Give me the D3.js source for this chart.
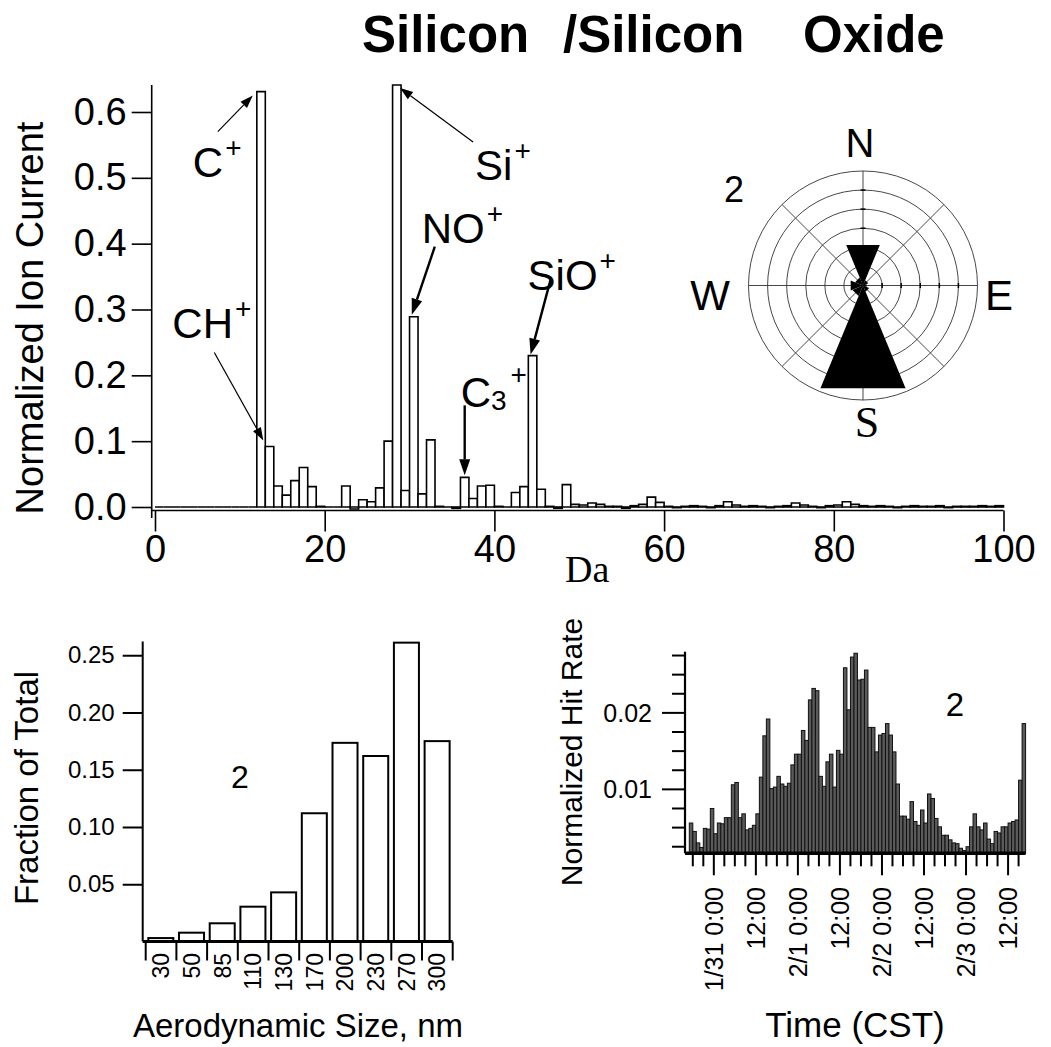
<!DOCTYPE html>
<html>
<head>
<meta charset="utf-8">
<script src="https://cdn.jsdelivr.net/npm/d3@7"></script>
<style>
  body { margin: 0; background: #fff; }
  svg { display: block; }
</style>
</head>
<body>
<div id="chart"></div>
<script>
// ---- mass spectrum: one bar per integer mass, 0..99 Da
const masses = d3.range(0, 100);
const ionCurrent = [
  0, 0, 0, 0, 0, 0, 0, 0, 0, 0,
  0, 0, 0.631, 0.092, 0.032, 0.018, 0.040, 0.060, 0.031, 0.001,
  0, 0, 0.032, -0.003, 0.011, 0.008, 0.029, 0.100, 0.641, 0.025,
  0.289, 0.020, 0.102, 0.001, 0, -0.002, 0.045, 0.013, 0.032, 0.033,
  0.001, 0, 0.022, 0.031, 0.230, 0.027, 0.001, -0.002, 0.034, 0.004,
  0.003, 0.006, 0.004, 0.001, 0.001, -0.002, 0.002, 0.004, 0.015, 0.007,
  0.001, -0.001, 0.001, 0.002, 0.001, -0.001, 0.002, 0.008, 0.003, 0.001,
  0.002, 0.001, -0.001, 0.001, 0.002, 0.006, 0.003, 0.001, -0.001, 0.002,
  0.003, 0.008, 0.004, 0.002, 0.001, 0.002, 0.001, -0.001, 0.001, 0.002,
  0.001, 0.001, 0.002, -0.001, 0.001, 0.001, 0.001, 0.002, 0.001, 0.002
];
const ionTicks = [0, 0.1, 0.2, 0.3, 0.4, 0.5, 0.6];
const massTicks = [0, 20, 40, 60, 80, 100];
const peakNames = ["C", "CH", "Si", "NO", "SiO", "C3"];
const peakMass = [12, 13, 28, 30, 44, 36];

// ---- wind rose (ring units)
const windDirs = ["N", "NE", "E", "SE", "S", "SW", "W", "NW"];
const windFreq = [2.3, 0.3, 0.2, 0.35, 5.83, 0.6, 0.7, 0.45];

// ---- size distribution
const sizeBins = ["30", "50", "85", "110", "130", "170", "200", "230", "270", "300"];
const sizeFrac = [0.003, 0.0077, 0.0159, 0.0304, 0.0429, 0.112, 0.1735, 0.162, 0.261, 0.175];
const sizeTicks = [0.05, 0.10, 0.15, 0.20, 0.25];

// ---- hourly hit rate starting 1/30 17:00 CST
const hitStart = new Date(2001, 0, 30, 17);
const hitRate = [
  0.0056, 0.0045, 0.0030, 0.0024, 0.0049, 0.0048, 0.0075, 0.0042, 0.0056, 0.0055,
  0.0063, 0.0063, 0.0106, 0.0109, 0.0063, 0.0068, 0.0047, 0.0049, 0.0053, 0.0068,
  0.0116, 0.0170, 0.0192, 0.0101, 0.0103, 0.0117, 0.0107, 0.0104, 0.0108, 0.0132,
  0.0146, 0.0146, 0.0177, 0.0164, 0.0217, 0.0232, 0.0229, 0.0117, 0.0104, 0.0136,
  0.0146, 0.0103, 0.0151, 0.0146, 0.0259, 0.0204, 0.0273, 0.0278, 0.0243, 0.0244,
  0.0256, 0.0181, 0.0181, 0.0149, 0.0171, 0.0173, 0.0186, 0.0171, 0.0149, 0.0107,
  0.0065, 0.0065, 0.0061, 0.0084, 0.0058, 0.0053, 0.0073, 0.0056, 0.0094, 0.0088,
  0.0062, 0.0051, 0.0040, 0.0040, 0.0034, 0.0030, 0.0029, 0.0023, 0.0020, 0.0025,
  0.0051, 0.0068, 0.0051, 0.0047, 0.0056, 0.0035, 0.0029, 0.0045, 0.0043, 0.0051,
  0.0051, 0.0056, 0.0058, 0.0060, 0.0112, 0.0186
];
const hitTicks = [0.01, 0.02];

const sans = "'Liberation Sans', Arial, sans-serif";
const serif = "'Liberation Serif', 'Times New Roman', serif";

const svg = d3.select("#chart").append("svg")
  .attr("width", 1051)
  .attr("height", 1047)
  .style("font-family", sans);

// Title
const title = svg.append("text")
  .attr("y", 52)
  .attr("font-size", 51)
  .attr("font-weight", "bold");
title.append("tspan").attr("x", 362).text("Silicon");
title.append("tspan").attr("x", 563).text("/Silicon");
title.append("tspan").attr("x", 803).text("Oxide");

// ================= mass spectrum =================
const x = d3.scaleLinear().domain([0, 100]).range([155, 1003.5]);
const y = d3.scaleLinear().domain([0, 0.641]).range([507, 85]);

svg.append("g")
  .selectAll("path")
  .data(masses)
  .join("path")
  .attr("d", m => {
    const x0 = x(m), x1 = x(m + 1), y0 = y(0), y1 = y(ionCurrent[m]);
    return `M${x0},${y0}V${y1}H${x1}V${y0}Z`;
  })
  .attr("fill", "#fff")
  .attr("stroke", "#000")
  .attr("stroke-width", 1.6);

const yAxis = svg.append("g")
  .attr("transform", "translate(151.7,0)")
  .call(d3.axisLeft(y).tickValues(ionTicks).tickSize(20).tickSizeOuter(0)
    .tickPadding(5).tickFormat(d3.format(".1f")));
yAxis.attr("font-size", 38).attr("font-family", sans);
yAxis.selectAll("line, path").attr("stroke-width", 1.6);
yAxis.select(".domain").attr("d", `M0,${y(0.641)}V518`);

const xAxis = svg.append("g")
  .attr("transform", "translate(0,510.5)")
  .call(d3.axisBottom(x).tickValues(massTicks).tickSize(21).tickSizeOuter(0).tickPadding(4));
xAxis.attr("font-size", 38).attr("font-family", sans);
xAxis.selectAll("line, path").attr("stroke-width", 1.6);
xAxis.select(".domain").attr("d", `M151.7,0H${x(100)}`);

svg.append("text")
  .attr("x", 565).attr("y", 582)
  .attr("font-family", serif).attr("font-size", 38)
  .text("Da");

svg.append("text")
  .attr("transform", "translate(43,318) rotate(-90)")
  .attr("text-anchor", "middle")
  .attr("font-size", 38)
  .text("Normalized Ion Current");

// peak callouts: tip on the bar top, offsets in px from that tip
const callout = {
  C:   { at: 0,   head: [-4, 4],  tail: [-39, 40],  label: [-64, 85],   w: 1.2 },
  CH:  { at: 0,   head: [-2, -6], tail: [-51, -94], label: [-93, -108], w: 1.2 },
  Si:  { at: 1,   head: [-1, 3],  tail: [72, 57],   label: [74, 95],    w: 1.2 },
  NO:  { at: 0.5, head: [-2, -2], tail: [21, -70],  label: [8, -74],    w: 2.4 },
  SiO: { at: 0.5, head: [-2, -1], tail: [18, -76],  label: [-5, -66],   w: 2.4 },
  C3:  { at: 0.5, head: [0, -2],  tail: [0, -72],   label: [-4, -70],   w: 2.4 }
};

function arrow(g, x1, y1, x2, y2, w) {
  const ang = Math.atan2(y2 - y1, x2 - x1);
  const len = w > 2 ? 16 : 13, half = w > 2 ? 5.5 : 4.5;
  const bx = x2 - len * Math.cos(ang), by = y2 - len * Math.sin(ang);
  g.append("line")
    .attr("x1", x1).attr("y1", y1).attr("x2", bx).attr("y2", by)
    .attr("stroke", "#000").attr("stroke-width", w);
  const px = -Math.sin(ang) * half, py = Math.cos(ang) * half;
  g.append("path")
    .attr("d", `M${x2},${y2}L${bx + px},${by + py}L${bx - px},${by - py}Z`)
    .attr("fill", "#000");
}

const notes = svg.append("g");
peakNames.forEach((name, i) => {
  const c = callout[name];
  const m = peakMass[i];
  const tx = x(m + c.at), ty = y(ionCurrent[m]);
  arrow(notes, tx + c.tail[0], ty + c.tail[1], tx + c.head[0], ty + c.head[1], c.w);
  const t = notes.append("text")
    .attr("x", tx + c.label[0]).attr("y", ty + c.label[1])
    .attr("font-size", 42);
  if (name === "C3") {
    t.append("tspan").text("C");
    t.append("tspan").attr("font-size", 28).attr("dy", 3).text("3");
    t.append("tspan").attr("font-size", 28).attr("dy", -26).attr("dx", 4).text("+");
  } else {
    t.append("tspan").text(name);
    t.append("tspan").attr("font-size", 28).attr("dy", -20).attr("dx", 2).text("+");
  }
});

// ================= wind rose =================
const rose = svg.append("g").attr("transform", "translate(863,285.5)");
const rr = d3.scaleLinear().domain([0, 6]).range([0, 114.5]);
const sector = Math.PI / 4;

rose.selectAll("circle")
  .data(d3.range(1, 7))
  .join("circle")
  .attr("r", d => rr(d))
  .attr("fill", "none")
  .attr("stroke", "#333")
  .attr("stroke-width", 0.9);

rose.selectAll("line.spoke")
  .data(windDirs)
  .join("line")
  .attr("class", "spoke")
  .attr("x2", (d, i) => rr(6) * Math.sin(i * sector))
  .attr("y2", (d, i) => -rr(6) * Math.cos(i * sector))
  .attr("stroke", "#333")
  .attr("stroke-width", 0.9);

// ring ticks on the N and E spokes
const ringTicks = d3.range(1, 6);
rose.selectAll("line.nt").data(ringTicks).join("line").attr("class", "nt")
  .attr("x1", -2.5).attr("x2", 2.5)
  .attr("y1", d => -rr(d)).attr("y2", d => -rr(d))
  .attr("stroke", "#000").attr("stroke-width", 1.5);
rose.selectAll("line.et").data(ringTicks).join("line").attr("class", "et")
  .attr("y1", -2.5).attr("y2", 2.5)
  .attr("x1", d => rr(d)).attr("x2", d => rr(d))
  .attr("stroke", "#000").attr("stroke-width", 1.5);

const wedge = d3.lineRadial()
  .angle(d => d[0])
  .radius(d => d[1])
  .curve(d3.curveLinearClosed);

rose.selectAll("path.wedge")
  .data(windFreq)
  .join("path")
  .attr("class", "wedge")
  .attr("d", (v, i) => {
    const a = i * sector;
    return wedge([[a, 0], [a - sector / 2, rr(v)], [a + sector / 2, rr(v)]]);
  })
  .attr("fill", "#000");

svg.append("text").attr("x", 860).attr("y", 157).attr("text-anchor", "middle").attr("font-size", 40).text("N");
svg.append("text").attr("x", 710).attr("y", 310).attr("text-anchor", "middle").attr("font-size", 42).text("W");
svg.append("text").attr("x", 999).attr("y", 310).attr("text-anchor", "middle").attr("font-size", 42).text("E");
svg.append("text").attr("x", 867).attr("y", 437).attr("text-anchor", "middle").attr("font-size", 44)
  .attr("font-family", serif).text("S");
svg.append("text").attr("x", 734).attr("y", 202).attr("text-anchor", "middle").attr("font-size", 36).text("2");

// ================= size distribution =================
const xs = d3.scaleBand().domain(sizeBins).range([145.7, 452.7]).padding(0);
const ys = d3.scaleLinear().domain([0, 0.262]).range([941.5, 641.5]);
const bw = xs.bandwidth();

svg.append("g")
  .selectAll("rect")
  .data(sizeBins)
  .join("rect")
  .attr("x", d => xs(d) + bw * 0.085)
  .attr("width", bw * 0.815)
  .attr("y", (d, i) => ys(sizeFrac[i]))
  .attr("height", (d, i) => ys(0) - ys(sizeFrac[i]))
  .attr("fill", "#fff")
  .attr("stroke", "#000")
  .attr("stroke-width", 2);

const ysAxis = svg.append("g")
  .attr("transform", "translate(142.7,0)")
  .call(d3.axisLeft(ys).tickValues(sizeTicks).tickSize(20).tickSizeOuter(0)
    .tickPadding(8).tickFormat(d3.format(".2f")));
ysAxis.attr("font-size", 24).attr("font-family", sans);
ysAxis.select(".domain").attr("d", `M0,${ys(0.262)}V${ys(0)}`).attr("stroke-width", 2);
ysAxis.selectAll(".tick line").attr("stroke-width", 2);

const sizeEdges = sizeBins.map(d => xs(d)).concat([xs.range()[1]]);
svg.append("line")
  .attr("x1", 142.7).attr("x2", xs.range()[1])
  .attr("y1", ys(0)).attr("y2", ys(0))
  .attr("stroke", "#000").attr("stroke-width", 3);
svg.append("g").selectAll("line")
  .data(sizeEdges)
  .join("line")
  .attr("x1", d => d).attr("x2", d => d)
  .attr("y1", ys(0)).attr("y2", ys(0) + 19)
  .attr("stroke", "#000").attr("stroke-width", 2);
svg.append("g").selectAll("text")
  .data(sizeBins)
  .join("text")
  .attr("transform", d => `translate(${xs(d) + bw / 2},953) rotate(-90)`)
  .attr("text-anchor", "end")
  .attr("dy", "0.35em")
  .attr("font-size", 23)
  .text(d => d);

svg.append("text")
  .attr("transform", "translate(38,788) rotate(-90)")
  .attr("text-anchor", "middle")
  .attr("font-size", 33)
  .text("Fraction of Total");
svg.append("text")
  .attr("x", 298).attr("y", 1037)
  .attr("text-anchor", "middle")
  .attr("font-size", 33)
  .text("Aerodynamic Size, nm");
svg.append("text")
  .attr("x", 240).attr("y", 788)
  .attr("text-anchor", "middle")
  .attr("font-size", 32)
  .text("2");

// ================= hit rate time series =================
const hour = 3600 * 1000;
const hitEnd = new Date(+hitStart + hitRate.length * hour);
const xt = d3.scaleTime().domain([hitStart, hitEnd]).range([689.3, 689.3 + hitRate.length * 3.503]);
const yh = d3.scaleLinear().domain([0.00164, 0.028]).range([853.3, 651.7]);

svg.append("g")
  .selectAll("rect")
  .data(hitRate)
  .join("rect")
  .attr("x", (v, i) => xt(new Date(+hitStart + i * hour)))
  .attr("width", (v, i) => xt(new Date(+hitStart + (i + 1) * hour)) - xt(new Date(+hitStart + i * hour)))
  .attr("y", v => yh(v))
  .attr("height", v => yh.range()[0] - yh(v))
  .attr("fill", "#5a5a5a")
  .attr("stroke", "#111")
  .attr("stroke-width", 1);

// y axis with minor ticks every 0.0025
const hitMinor = d3.range(1, 12).map(k => k * 0.0025);
svg.append("line")
  .attr("x1", 685).attr("x2", 685)
  .attr("y1", yh(0.028)).attr("y2", yh.range()[0])
  .attr("stroke", "#000").attr("stroke-width", 2.2);
svg.append("g").selectAll("line")
  .data(hitMinor)
  .join("line")
  .attr("x1", v => hitTicks.some(t => Math.abs(t - v) < 1e-9) ? 662 : 672)
  .attr("x2", 685)
  .attr("y1", v => yh(v)).attr("y2", v => yh(v))
  .attr("stroke", "#000").attr("stroke-width", 2);
svg.append("g").selectAll("text")
  .data(hitTicks)
  .join("text")
  .attr("x", 652).attr("y", v => yh(v))
  .attr("dy", "0.35em")
  .attr("text-anchor", "end")
  .attr("font-size", 25)
  .text(d3.format(".2f"));

// x axis: ticks every 3 h, long ones at 0:00 and 12:00
const timeTicks = d3.timeHour.every(3).range(new Date(+hitStart + hour), hitEnd);
svg.append("line")
  .attr("x1", 685).attr("x2", xt.range()[1])
  .attr("y1", yh.range()[0]).attr("y2", yh.range()[0])
  .attr("stroke", "#000").attr("stroke-width", 3.5);
svg.append("g").selectAll("line")
  .data(timeTicks)
  .join("line")
  .attr("x1", d => xt(d)).attr("x2", d => xt(d))
  .attr("y1", yh.range()[0])
  .attr("y2", d => yh.range()[0] + (d.getHours() % 12 === 0 ? 22 : 13))
  .attr("stroke", "#000").attr("stroke-width", 2);
svg.append("g").selectAll("text")
  .data(timeTicks.filter(d => d.getHours() % 12 === 0))
  .join("text")
  .attr("transform", d => `translate(${xt(d)},887) rotate(-90)`)
  .attr("text-anchor", "end")
  .attr("dy", "0.35em")
  .attr("font-size", 25)
  .text(d => d.getHours() === 0 ? `${d.getMonth() + 1}/${d.getDate()} 0:00` : "12:00");

svg.append("text")
  .attr("transform", "translate(582,752) rotate(-90)")
  .attr("text-anchor", "middle")
  .attr("font-size", 30)
  .text("Normalized Hit Rate");
svg.append("text")
  .attr("x", 855).attr("y", 1037)
  .attr("text-anchor", "middle")
  .attr("font-size", 35)
  .text("Time (CST)");
svg.append("text")
  .attr("x", 955).attr("y", 716)
  .attr("text-anchor", "middle")
  .attr("font-size", 33)
  .text("2");
</script>
</body>
</html>
